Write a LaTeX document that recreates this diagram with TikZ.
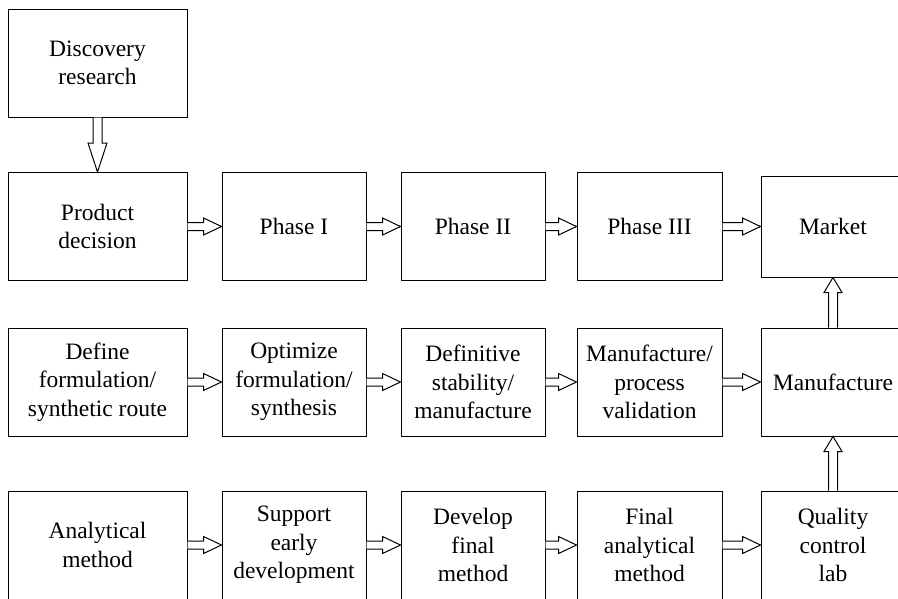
\documentclass[tikz,border=0pt]{standalone}
\usepackage{fontspec}
\setmainfont{Liberation Serif}
\usetikzlibrary{calc}
\tikzset{
  stage/.style={draw, line width=1pt, inner sep=0pt, align=center,
    minimum width=144pt, minimum height=108pt,
    font=\fontsize{23.5}{28.5}\selectfont},
  widestage/.style={stage, minimum width=179pt},
  blockarr/.style={draw, line width=1pt, fill=white, line join=miter},
}
% open block arrow from the right side of #1 to the left side of #2
\newcommand\flowright[2]{%
  \path[blockarr] let \p1=(#1.east), \p2=(#2.west) in
    (\x1,\y1+4pt) -- (\x2-18pt,\y1+4pt) -- (\x2-18pt,\y1+8.5pt) -- (\x2,\y1)
    -- (\x2-18pt,\y1-8.5pt) -- (\x2-18pt,\y1-4pt) -- (\x1,\y1-4pt);}
% open block arrow from the bottom of #1 down to the top of #2
\newcommand\flowdown[2]{%
  \path[blockarr] let \p1=(#1.south), \p2=(#2.north) in
    (\x1-4.5pt,\y1) -- (\x1-4.5pt,\y2+29pt) -- (\x1-9.5pt,\y2+29pt) -- (\x1,\y2)
    -- (\x1+9.5pt,\y2+29pt) -- (\x1+4.5pt,\y2+29pt) -- (\x1+4.5pt,\y1);}
% open block arrow from the top of #1 up to the bottom of #2
\newcommand\flowup[2]{%
  \path[blockarr] let \p1=(#1.north), \p2=(#2.south) in
    (\x1-4.5pt,\y1) -- (\x1-4.5pt,\y2-15pt) -- (\x1-9pt,\y2-15pt) -- (\x1,\y2)
    -- (\x1+9pt,\y2-15pt) -- (\x1+4.5pt,\y2-15pt) -- (\x1+4.5pt,\y1);}
\begin{document}
\begin{tikzpicture}[x=1pt,y=-1pt]
\useasboundingbox (0,0) rectangle (898,598);
\clip (0,0) rectangle (898,598);

% research
\node[widestage] (disc) at (97.5,63) {Discovery\\research};

% clinical track
\node[widestage] (prod) at (97.5,226.5) {Product\\decision};
\node[stage] (ph1) at (294,226.5) {Phase I};
\node[stage] (ph2) at (473,226.5) {Phase II};
\node[stage, minimum width=145pt] (ph3) at (649.5,226.5) {Phase III};
\node[stage, minimum height=101pt] (market) at (833,226.5) {Market};

% formulation track
\node[widestage] (define) at (97.5,382) {Define\\formulation/\\synthetic route};
\node[stage] (optim) at (294,382) {Optimize\\formulation/\\synthesis};
\node[stage] (defin) at (473,382) {Definitive\\stability/\\manufacture};
\node[stage, minimum width=145pt] (valid) at (649.5,382) {Manufacture/\\process\\validation};
\node[stage] (manuf) at (833,382) {Manufacture};

% analytical track
\node[widestage] (anal) at (97.5,545) {Analytical\\method};
\node[stage] (support) at (294,545) {Support\\early\\development};
\node[stage] (develop) at (473,545) {Develop\\final\\method};
\node[stage, minimum width=145pt] (final) at (649.5,545) {Final\\analytical\\method};
\node[stage] (qc) at (833,545) {Quality\\control\\lab};

% connectors
\flowdown{disc}{prod}
\flowright{prod}{ph1}
\flowright{ph1}{ph2}
\flowright{ph2}{ph3}
\flowright{ph3}{market}
\flowright{define}{optim}
\flowright{optim}{defin}
\flowright{defin}{valid}
\flowright{valid}{manuf}
\flowright{anal}{support}
\flowright{support}{develop}
\flowright{develop}{final}
\flowright{final}{qc}
\flowup{manuf}{market}
\flowup{qc}{manuf}
\end{tikzpicture}
\end{document}
